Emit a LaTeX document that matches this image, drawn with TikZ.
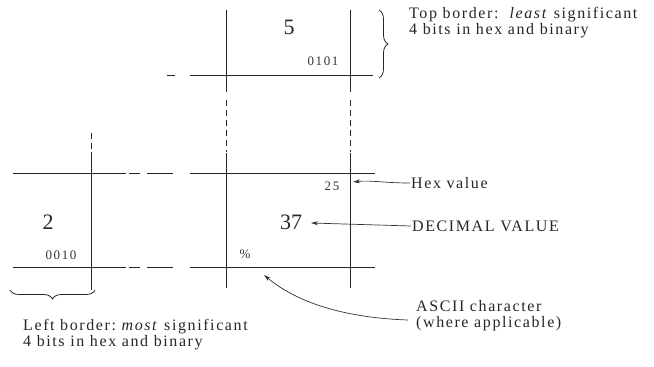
\documentclass[tikz,border=0pt]{standalone}
\usepackage{fontspec}
\setmainfont{Liberation Serif}
\usetikzlibrary{decorations.pathreplacing,arrows.meta}
\begin{document}
\begin{tikzpicture}[x=1pt,y=-1pt,
  grid/.style={line width=0.8pt,black!85},
  dsh/.style={grid,dash pattern=on 6pt off 4pt},
  lbl/.style={anchor=west,font=\fontsize{16}{16}\selectfont\addfontfeature{LetterSpace=10},inner sep=1pt,align=left,text=black!85},
  big/.style={font=\fontsize{22}{22}\selectfont,inner sep=0pt,text=black!85},
  small/.style={font=\fontsize{13}{13}\selectfont\addfontfeature{LetterSpace=12},inner sep=0pt,text=black!80},
  arr/.style={line width=0.7pt,black!80,-{Stealth[length=7pt,width=4pt]}},
  brc/.style={line width=0.8pt,black!85,decorate,decoration={brace,amplitude=9pt}}]
\useasboundingbox (0,0) rectangle (654,367);
% top part
\coordinate (ta1) at (226,10); \coordinate (ta2) at (226,92);
\coordinate (tb1) at (350,10); \coordinate (tb2) at (350,92);
\draw[grid] (ta1) -- (ta2);
\draw[grid] (tb1) -- (tb2);
\draw[grid] (167,75) -- (175,75);
\draw[grid] (190,75) -- (373,75);
\draw[dsh] (226,100) -- (226,152);
\draw[dsh] (350,100) -- (350,152);
\node[big] (five) at (289,27) {5};
\node[small] (b0101) at (323,61) {0101};
\draw[brc] (379,10) -- (379,78);
\node[lbl] (toplbl) at (408,23) {Top border:\ \ \textit{least} significant\\4 bits in hex and binary};
% middle part
\foreach \y in {173,267}{
  \draw[grid] (13,\y) -- (126,\y);
  \draw[grid] (129,\y) -- (140,\y);
  \draw[grid] (147,\y) -- (173,\y);
  \draw[grid] (190,\y) -- (375,\y);
}
\draw[dsh] (91,133) -- (91,152);
\draw[grid] (91,152) -- (91,290);
\draw[grid] (226,153) -- (226,288);
\draw[grid] (350,153) -- (350,288);
\node[small] (h25) at (332,186) {25};
\node[big] (two) at (48,222) {2};
\node[big] (d37) at (291,222) {37};
\node[small] (b0010) at (61,255) {0010};
\node[small] (pct) at (245,254) {\%};
% labels right
\node[lbl] (hexlbl) at (410,183) {Hex value};
\node[lbl] (declbl) at (411,226) {DECIMAL VALUE};
\node[lbl] (asclbl) at (415,316) {ASCII character\\(where applicable)};
\coordinate (hexpt) at (353,182);
\coordinate (decpt) at (311,223);
\coordinate (ascpt) at (264,275);
\coordinate (ascst) at (408,320);
\draw[arr] (hexlbl.west) .. controls (385,183) and (370,180) .. (hexpt);
\draw[arr] (declbl.west) -- (decpt);
\draw[arr] (ascst) .. controls (350,318) and (300,305) .. (ascpt);
% bottom-left brace
\draw[brc] (95,290) -- (10,290);
\node[lbl] (leftlbl) at (22,335) {Left border:\ \textit{most} significant\\4 bits in hex and binary};
\end{tikzpicture}
\end{document}
